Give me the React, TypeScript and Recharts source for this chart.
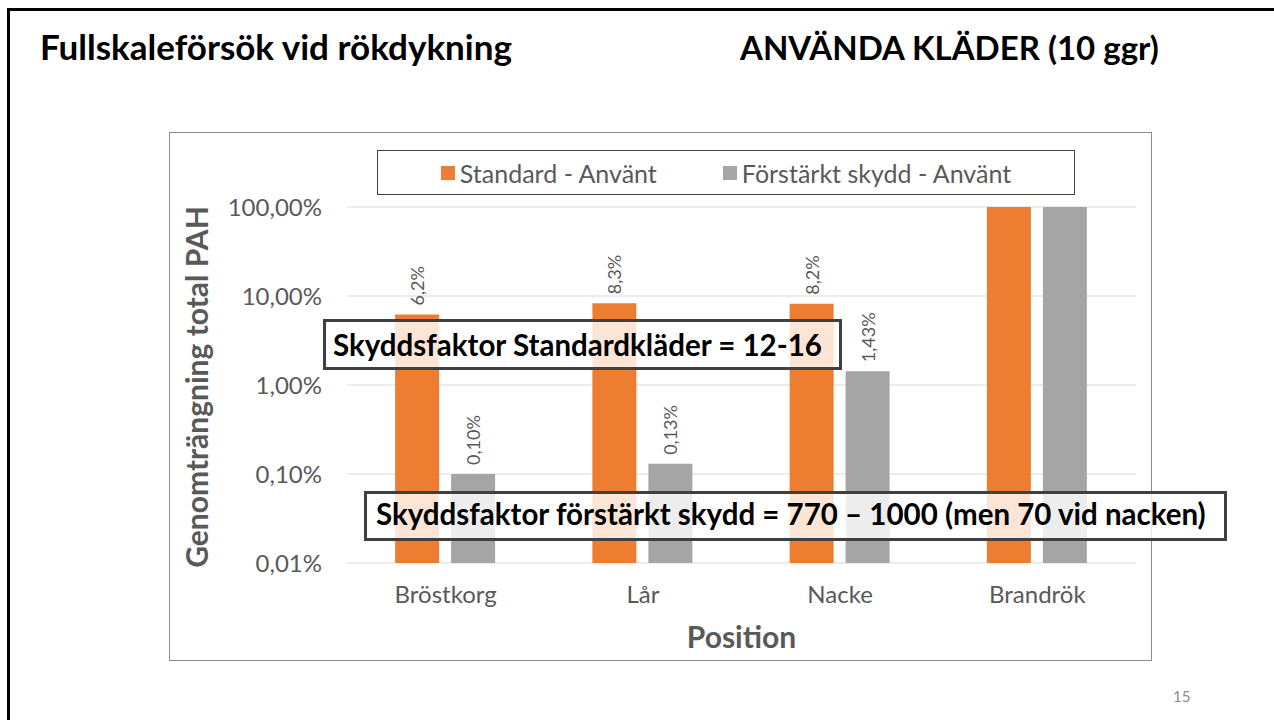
import { BarChart, Bar, XAxis, YAxis, CartesianGrid, Legend, LabelList, Label } from "recharts";

const categories = ["Bröstkorg", "Lår", "Nacke", "Brandrök"];
const standardValues = [6.2, 8.3, 8.2, 100];
const reinforcedValues = [0.1, 0.13, 1.43, 100];
const standardLabels = ["6,2%", "8,3%", "8,2%", ""];
const reinforcedLabels = ["0,10%", "0,13%", "1,43%", ""];
const yTicks = [0.01, 0.1, 1, 10, 100];
const yTickLabels = ["0,01%", "0,10%", "1,00%", "10,00%", "100,00%"];
const seriesNames = ["Standard - Använt", "Förstärkt skydd - Använt"];
const seriesColors = ["#ED7D31", "#A5A5A5"];

const FONT = "Lato, 'Open Sans', sans-serif";
const GREY_TEXT = "#595959";

const data = categories.map((name, i) => ({
  name,
  std: standardValues[i],
  frs: reinforcedValues[i],
  stdLabel: standardLabels[i],
  frsLabel: reinforcedLabels[i],
}));

// rotated value label sitting just above the bar
const RotatedLabel = (props: any) => {
  const vb = props.viewBox || props;
  if (!props.value) return null;
  const x = vb.x + vb.width / 2;
  const y = vb.y - 9;
  return (
    <text
      x={x}
      y={y}
      transform={`rotate(-90, ${x}, ${y})`}
      textAnchor="start"
      dominantBaseline="central"
      fill={GREY_TEXT}
      fontSize={18}
      fontFamily={FONT}
    >
      {props.value}
    </text>
  );
};

const LegendBox = () => (
  <div
    style={{
      boxSizing: "border-box",
      width: 698,
      height: 45,
      border: "1px solid #404040",
      background: "#fff",
      display: "flex",
      alignItems: "center",
      justifyContent: "center",
      gap: 66,
      fontFamily: FONT,
      fontSize: 25,
      color: GREY_TEXT,
    }}
  >
    {seriesNames.map((n, i) => (
      <div key={n} style={{ display: "flex", alignItems: "center" }}>
        <span style={{ width: 14, height: 14, background: seriesColors[i], marginRight: 5, display: "inline-block" }} />
        {n}
      </div>
    ))}
  </div>
);

export default function App() {
  return (
    <div
      style={{
        position: "fixed",
        left: 0,
        top: 0,
        width: 1274,
        height: 720,
        background: "#fff",
        overflow: "hidden",
        fontFamily: FONT,
      }}
    >
      <div
        style={{
          position: "absolute",
          left: 7,
          top: 8,
          width: 1400,
          height: 900,
          borderTop: "3px solid #000",
          borderLeft: "3px solid #000",
        }}
      />
      <div
        style={{
          position: "absolute",
          left: 169,
          top: 132,
          width: 983,
          height: 529,
          boxSizing: "border-box",
          border: "1.5px solid #8c8c8c",
        }}
      />
      <div style={{ position: "absolute", left: 169, top: 132 }}>
        <BarChart
          width={983}
          height={529}
          data={data}
          margin={{ top: 75, right: 16, bottom: 0, left: 0 }}
          barCategoryGap="24.4%"
          barGap={12}
        >
          <CartesianGrid vertical={false} stroke="#D9D9D9" />
          <XAxis
            dataKey="name"
            axisLine={false}
            tickLine={false}
            tickSize={0}
            tickMargin={23}
            height={98}
            interval={0}
            tick={{ fill: GREY_TEXT, fontSize: 24, fontFamily: FONT }}
          >
            <Label value="Position" position="center" dy={25} fill={GREY_TEXT} fontSize={30} fontWeight={700} fontFamily={FONT} />
          </XAxis>
          <YAxis
            type="number"
            scale="log"
            domain={[0.01, 100]}
            ticks={yTicks}
            allowDataOverflow
            width={178}
            axisLine={false}
            tickLine={false}
            tickSize={0}
            tickMargin={25}
            tick={{ fill: GREY_TEXT, fontSize: 24, fontFamily: FONT }}
            tickFormatter={(v: number) => yTickLabels[yTicks.indexOf(v)]}
          >
            <Label
              value="Genomträngning total PAH"
              angle={-90}
              position="center"
              dx={-61}
              dy={2}
              fill={GREY_TEXT}
              fontSize={30}
              fontWeight={700}
              fontFamily={FONT}
            />
          </YAxis>
          <Legend
            layout="vertical"
            verticalAlign="middle"
            align="center"
            wrapperStyle={{ top: 18, left: 208, width: 698, height: 45 }}
            content={() => <LegendBox />}
          />
          <Bar dataKey="std" name={seriesNames[0]} fill={seriesColors[0]} isAnimationActive={false}>
            <LabelList dataKey="stdLabel" content={RotatedLabel} />
          </Bar>
          <Bar dataKey="frs" name={seriesNames[1]} fill={seriesColors[1]} isAnimationActive={false}>
            <LabelList dataKey="frsLabel" content={RotatedLabel} />
          </Bar>
        </BarChart>
      </div>
      <svg
        width={1274}
        height={720}
        style={{ position: "absolute", left: 0, top: 0, pointerEvents: "none" }}
        fontFamily={FONT}
      >
        <text x={40} y={60} fontSize={35} fontWeight={700} fill="#000">
          Fullskaleförsök vid rökdykning
        </text>
        <text x={740} y={60} fontSize={33} fontWeight={700} fill="#000">
          ANVÄNDA KLÄDER (10 ggr)
        </text>
        <rect x={324.5} y={320.5} width={516} height={48} fill="#fff" fillOpacity={0.8} stroke="#404040" strokeWidth={3} />
        <text x={333} y={356} fontSize={29.5} fontWeight={700} fill="#000">
          Skyddsfaktor Standardkläder = 12-16
        </text>
        <rect x={365.5} y={492.5} width={860} height={47} fill="#fff" fillOpacity={0.8} stroke="#404040" strokeWidth={3} />
        <text x={376} y={525} fontSize={29.5} fontWeight={700} fill="#000">
          Skyddsfaktor förstärkt skydd = 770 – 1000 (men 70 vid nacken)
        </text>
        <text x={1173} y={702} fontSize={15} fill="#8c8c8c">
          15
        </text>
      </svg>
    </div>
  );
}
